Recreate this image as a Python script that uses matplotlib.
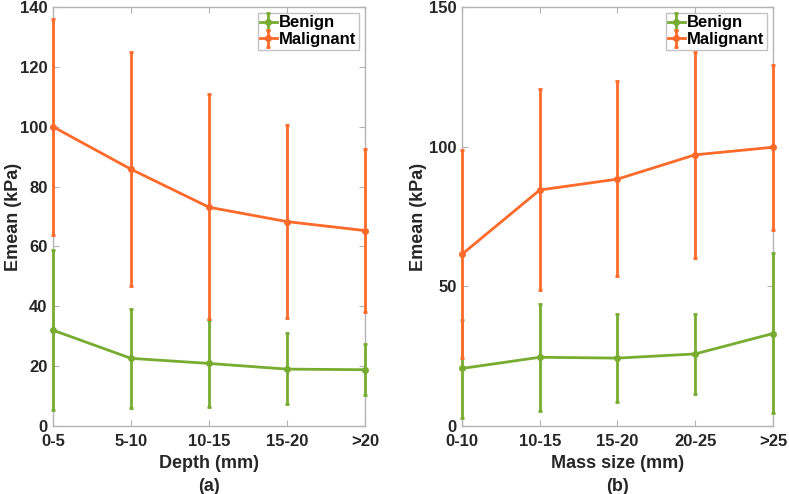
import numpy as np
import matplotlib.pyplot as plt

plt.rcParams['font.family'] = ['Liberation Sans', 'DejaVu Sans']
plt.rcParams['font.weight'] = 'bold'

# (a) depth
depth_cats = ['0-5', '5-10', '10-15', '15-20', '>20']
depth_ben = [32.0, 22.6, 20.9, 19.0, 18.8]
depth_ben_hi = [58.7, 39.0, 35.3, 31.1, 27.3]
depth_ben_lo = [5.3, 6.1, 6.4, 7.2, 10.3]
depth_mal = [100.0, 85.8, 73.1, 68.3, 65.3]
depth_mal_hi = [136.1, 125.0, 110.8, 100.6, 92.5]
depth_mal_lo = [63.9, 46.7, 35.9, 36.1, 38.0]

# (b) mass size
size_cats = ['0-10', '10-15', '15-20', '20-25', '>25']
size_ben = [20.6, 24.6, 24.3, 25.8, 33.1]
size_ben_hi = [38.0, 43.8, 40.2, 40.2, 61.8]
size_ben_lo = [3.0, 5.4, 8.7, 11.4, 4.6]
size_mal = [61.5, 84.5, 88.4, 97.1, 99.8]
size_mal_hi = [98.9, 120.5, 123.5, 133.9, 129.2]
size_mal_lo = [24.2, 48.8, 53.7, 60.2, 70.1]

green = '#77AC30'
orange = '#FF6A2A'
grey = '#b3b3b3'
txt = '#262626'


def panel(ax, cats, ben, ben_hi, ben_lo, mal, mal_hi, mal_lo, ymax, ystep, xlab, ylab_x):
    x = np.arange(len(cats))
    for m, hi, lo, c, lab in [(ben, ben_hi, ben_lo, green, 'Benign'),
                              (mal, mal_hi, mal_lo, orange, 'Malignant')]:
        m = np.array(m)
        err = [m - np.array(lo), np.array(hi) - m]
        ax.errorbar(x, m, yerr=err, color=c, lw=2, marker='o', ms=4,
                    capsize=1.6, capthick=2, elinewidth=2, label=lab,
                    clip_on=False, zorder=3)
    ax.set_xlim(0, len(cats) - 1)
    ax.set_ylim(0, ymax)
    ax.set_xticks(x)
    ax.set_xticklabels(cats)
    ax.set_yticks(np.arange(0, ymax + 1, ystep))
    for s in ax.spines.values():
        s.set_color(grey)
        s.set_linewidth(1)
        s.set_zorder(1)
    ax.tick_params(direction='in', length=4, color=grey, top=True, right=True,
                   labelsize=12, labelcolor=txt)
    ax.tick_params(axis='x', pad=6)
    ax.tick_params(axis='y', pad=4)
    for t in ax.get_xticklabels() + ax.get_yticklabels():
        t.set_fontweight('bold')
    ax.set_ylabel('Emean (kPa)', fontsize=13, fontweight='bold', color=txt)
    ax.yaxis.set_label_coords(ylab_x, 0.5)
    ax.set_xlabel(xlab, fontsize=13, fontweight='bold', color=txt, labelpad=4,
                  linespacing=1.45)
    leg = ax.legend(loc='upper right', fontsize=12, frameon=True, fancybox=False,
                    borderpad=0.15, handlelength=1.0, handletextpad=0.15,
                    labelspacing=0.1, borderaxespad=0.35)
    leg.get_frame().set_edgecolor(grey)
    leg.get_frame().set_linewidth(1)
    for t in leg.get_texts():
        t.set_fontweight('bold')
        t.set_color('black')


fig = plt.figure(figsize=(7.89, 4.94), dpi=100)
ax1 = fig.add_axes([0.0672, 0.1377, 0.3954, 0.848])
ax2 = fig.add_axes([0.5856, 0.1377, 0.394, 0.848])

panel(ax1, depth_cats, depth_ben, depth_ben_hi, depth_ben_lo,
      depth_mal, depth_mal_hi, depth_mal_lo, 140, 20, 'Depth (mm)\n(a)', -0.10)
panel(ax2, size_cats, size_ben, size_ben_hi, size_ben_lo,
      size_mal, size_mal_hi, size_mal_lo, 150, 50, 'Mass size (mm)\n(b)', -0.113)

fig.savefig('out.png', dpi=100)
